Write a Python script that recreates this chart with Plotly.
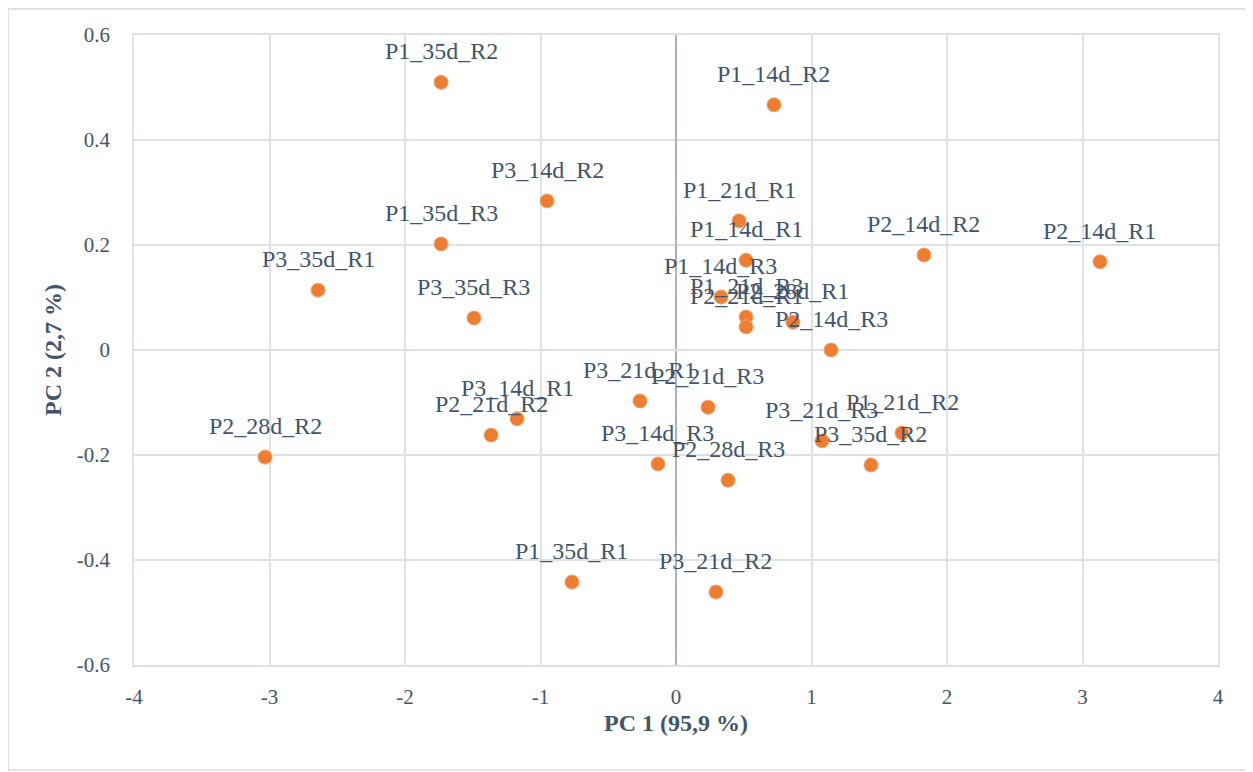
import plotly.graph_objects as go

# sample labels and PCA scores
labels = [
    "P1_35d_R2", "P1_14d_R2", "P3_14d_R2", "P1_21d_R1", "P1_35d_R3",
    "P2_14d_R2", "P2_14d_R1", "P1_14d_R1", "P3_35d_R1", "P1_14d_R3",
    "P3_35d_R3", "P1_21d_R3", "P2_21d_R1", "P2_28d_R1", "P2_14d_R3",
    "P3_21d_R1", "P2_21d_R3", "P3_14d_R1", "P2_21d_R2", "P2_28d_R2",
    "P3_21d_R3", "P1_21d_R2", "P3_14d_R3", "P3_35d_R2", "P2_28d_R3",
    "P1_35d_R1", "P3_21d_R2",
]
pc1 = [
    -1.734, 0.723, -0.952, 0.465, -1.734,
    1.830, 3.129, 0.517, -2.642, 0.332,
    -1.491, 0.517, 0.517, 0.863, 1.144,
    -0.266, 0.236, -1.173, -1.365, -3.033,
    1.077, 1.668, -0.133, 1.439, 0.384,
    -0.768, 0.295,
]
pc2 = [
    0.510, 0.467, 0.284, 0.246, 0.202,
    0.181, 0.168, 0.171, 0.114, 0.101,
    0.061, 0.063, 0.044, 0.053, 0.000,
    -0.097, -0.109, -0.131, -0.162, -0.204,
    -0.173, -0.158, -0.217, -0.219, -0.248,
    -0.442, -0.461,
]

x_ticks = [-4, -3, -2, -1, 0, 1, 2, 3, 4]
x_ticktext = ["-4", "-3", "-2", "-1", "0", "1", "2", "3", "4"]
y_ticks = [-0.6, -0.4, -0.2, 0, 0.2, 0.4, 0.6]
y_ticktext = ["-0.6", "-0.4", "-0.2", "0", "0.2", "0.4", "0.6"]

txt = "#44546A"
grid = "#DDE1E8"
font = "Liberation Serif, Times New Roman, serif"

fig = go.Figure()
fig.add_trace(go.Scatter(
    x=pc1, y=pc2,
    mode="markers",
    marker=dict(size=14, color="#ED7D31", line=dict(width=1, color="#F4A36E")),
    showlegend=False,
))

# data labels sit above each point, like Excel's "above" position
for lab, xv, yv in zip(labels, pc1, pc2):
    fig.add_annotation(x=xv, y=yv, text=lab, showarrow=False, yshift=31,
                       font=dict(family=font, size=24, color=txt))

fig.update_xaxes(
    range=[-4, 4], tickvals=x_ticks, ticktext=x_ticktext,
    showgrid=True, gridcolor=grid, gridwidth=1.5,
    zeroline=True, zerolinecolor="#A9B2C3", zerolinewidth=1.5,
    showline=True, linecolor=grid, linewidth=1.5, mirror=True,
    ticks="", ticklabelstandoff=12,
    tickfont=dict(family=font, size=21, color=txt),
    title=dict(text="<b>PC 1 (95,9 %)</b>", font=dict(family=font, size=24, color=txt), standoff=6),
)
fig.update_yaxes(
    range=[-0.6, 0.6], tickvals=y_ticks, ticktext=y_ticktext,
    showgrid=True, gridcolor=grid, gridwidth=1.5,
    zeroline=True, zerolinecolor=grid, zerolinewidth=1.5,
    showline=True, linecolor=grid, linewidth=1.5, mirror=True,
    ticks="", ticklabelstandoff=18,
    tickfont=dict(family=font, size=21, color=txt),
    title=dict(text="<b>PC 2 (2,7 %)</b>", font=dict(family=font, size=24, color=txt), standoff=8),
)

# thin frame around the whole chart area
fig.add_shape(type="rect", xref="paper", yref="paper",
              x0=-126 / 1084, x1=(1243 - 126) / 1084,
              y0=-105 / 630, y1=(630 + 26) / 630,
              line=dict(color="#D9D9D9", width=1.5), fillcolor="rgba(0,0,0,0)", layer="below")

fig.update_layout(
    width=1245, height=764,
    margin=dict(l=126, r=35, t=27, b=107),
    paper_bgcolor="white", plot_bgcolor="white",
    font=dict(family=font, color=txt),
)

fig.write_html("out.html")
